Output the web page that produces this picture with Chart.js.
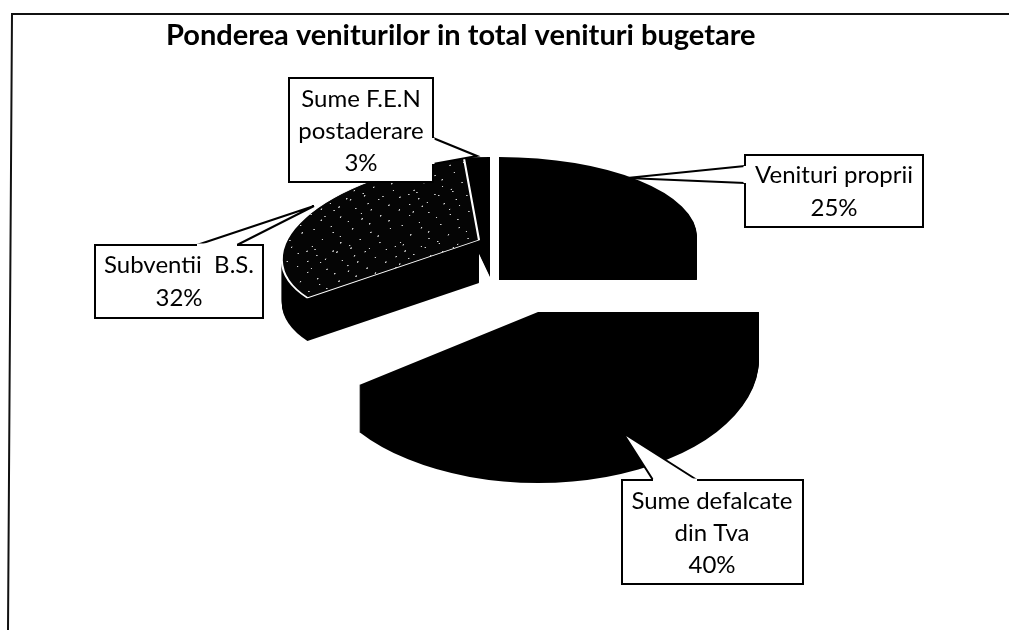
<!DOCTYPE html>
<html>
<head>
<meta charset="utf-8">
<title>Ponderea veniturilor</title>
<style>
    html, body { margin: 0; padding: 0; background: #fff; }
    #wrap { position: relative; width: 1009px; height: 630px; }
</style>
<script src="https://cdn.jsdelivr.net/npm/chart.js@4"></script>
</head>
<body>
<div id="wrap"><canvas id="pie" width="1009" height="630"></canvas></div>
<script>
const categories = ['Venituri proprii', 'Sume defalcate din Tva', 'Subventii  B.S.', 'Sume F.E.N postaderare'];
const shares = [25, 40, 32, 3];
const labelLines = [['Venituri proprii'], ['Sume defalcate', 'din Tva'], ['Subventii  B.S.'], ['Sume F.E.N', 'postaderare']];
const chartTitle = 'Ponderea veniturilor in total venituri bugetare';

// 3D look: every exploded slice has its own squash, skew and wall height (the original has perspective)
const sliceLook = [
    { cx: 499, cy: 237, rx: 198, ry: 80, depth: 43, skewX: 0, skewY: 0 },
    { cx: 538, cy: 312, rx: 221, ry: 124, depth: 47, skewX: 0, skewY: 0 },
    { cx: 479, cy: 240, rx: 196, ry: 85, depth: 43, skewX: -0.26, skewY: -0.05 },
    { cx: 490, cy: 237, rx: 198, ry: 80, depth: 40, skewX: 0, skewY: 0 },
];
const drawOrder = [3, 0, 2, 1];

const callouts = [
    { box: [745, 155, 178, 72], tail: [[745, 166], [627, 178], [745, 183]], midX: 834, baseY: 183, step: 33 },
    { box: [622, 480, 181, 104], tail: [[653, 480], [623, 433], [697, 480]], midX: 712, baseY: 509, step: 32 },
    { box: [95, 245, 168, 73], tail: [[197, 245], [314, 206], [237, 245]], midX: 179, baseY: 273, step: 33 },
    { box: [289, 78, 144, 104], tail: [[433, 138], [477, 156], [433, 164]], midX: 361, baseY: 107, step: 32 },
];

function speckle() {
    const tile = document.createElement('canvas');
    tile.width = 127;
    tile.height = 173;
    const c = tile.getContext('2d');
    c.fillStyle = '#050505';
    c.fillRect(0, 0, 127, 173);
    c.fillStyle = '#d4d4d4';
    [[3, 7], [14, 2], [19, 23], [41, 11], [47, 15], [66, 4], [88, 19], [93, 9], [118, 14], [8, 41], [27, 48], [33, 37],
        [58, 44], [74, 31], [81, 52], [105, 39], [122, 57], [12, 78], [16, 66], [39, 71], [52, 88], [68, 63], [71, 81],
        [97, 74], [111, 92], [5, 109], [29, 102], [34, 121], [61, 113], [84, 99], [89, 127], [116, 118], [21, 143],
        [46, 136], [49, 158], [76, 149], [101, 141], [106, 164], [9, 166], [63, 169]].forEach(([x, y]) => {
        c.fillRect(x, y, 2, 4);
    });
    return c.createPattern(tile, 'repeat');
}

const slices3d = {
    id: 'slices3d',
    afterLayout(chart) {
        chart.titleBlock.left = 166;
    },
    beforeDatasetDraw(chart, args) {
        const ctx = chart.ctx;
        drawOrder.forEach((i) => {
            const arc = args.meta.data[i];
            const look = sliceLook[i];
            const place = (down) => {
                const sx = look.rx / arc.outerRadius;
                const sy = look.ry / arc.outerRadius;
                ctx.save();
                ctx.transform(sx, look.skewY * sx, look.skewX * sy, sy, look.cx, look.cy + down);
                ctx.translate(-arc.x, -arc.y);
            };
            const topOptions = arc.options;
            arc.options = Object.assign({}, topOptions, { backgroundColor: '#000', borderWidth: 0 });
            for (let down = look.depth; down > 0; down--) {
                place(down);
                arc.draw(ctx);
                ctx.restore();
            }
            arc.options = topOptions;
            place(0);
            arc.draw(ctx);
            ctx.restore();
        });
        return false;
    },
    afterDraw(chart) {
        const ctx = chart.ctx;
        ctx.save();
        // scanned frame: top and left edges only
        ctx.strokeStyle = '#111';
        ctx.lineWidth = 2;
        ctx.beginPath();
        ctx.moveTo(1009, 14);
        ctx.lineTo(12, 14);
        ctx.lineTo(8, 630);
        ctx.stroke();

        callouts.forEach((item, i) => {
            const [x, y, w, h] = item.box;
            ctx.fillStyle = '#fff';
            ctx.strokeStyle = '#000';
            ctx.lineWidth = 2;
            ctx.fillRect(x, y, w, h);
            ctx.strokeRect(x, y, w, h);
            ctx.beginPath();
            item.tail.forEach(([tx, ty], k) => (k ? ctx.lineTo(tx, ty) : ctx.moveTo(tx, ty)));
            ctx.fill();
            ctx.stroke();
            // hide the box edge under the tail root
            const [a, , b] = item.tail;
            ctx.beginPath();
            ctx.moveTo(a[0], a[1]);
            ctx.lineTo(b[0], b[1]);
            ctx.strokeStyle = '#fff';
            ctx.lineWidth = 3;
            ctx.stroke();

            ctx.fillStyle = '#000';
            ctx.font = '24px Lato';
            ctx.textAlign = 'center';
            ctx.textBaseline = 'alphabetic';
            labelLines[i].concat(shares[i] + '%').forEach((line, n) => {
                ctx.fillText(line, item.midX, item.baseY + n * item.step);
            });
        });
        ctx.restore();
    },
};

new Chart(document.getElementById('pie'), {
    type: 'pie',
    data: {
        labels: categories,
        datasets: [{
            data: shares,
            backgroundColor: ['#000', '#000', speckle(), '#000'],
            borderColor: '#fff',
            borderWidth: [0, 0, 3, 0],
        }],
    },
    options: {
        responsive: false,
        animation: false,
        plugins: {
            legend: { display: false },
            tooltip: { enabled: false },
            title: {
                display: true,
                text: chartTitle,
                align: 'start',
                color: '#000',
                font: { family: 'Lato', size: 29, weight: 'bold' },
                padding: { top: 18, bottom: 10 },
            },
        },
    },
    plugins: [slices3d],
});
</script>
</body>
</html>
